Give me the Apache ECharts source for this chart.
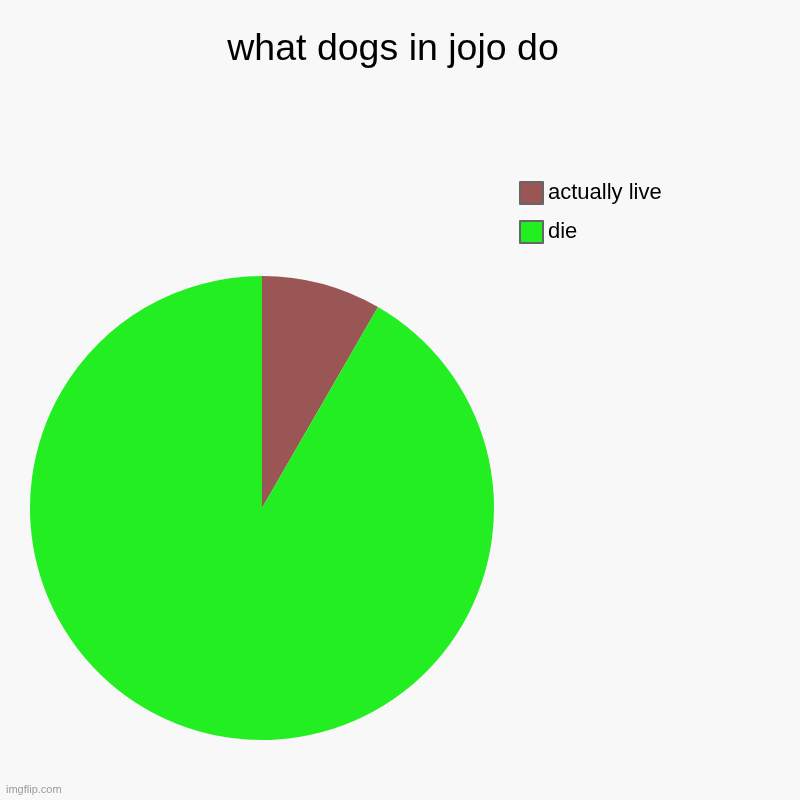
<!DOCTYPE html>
<html>
<head>
<meta charset="utf-8">
<script src="https://cdn.jsdelivr.net/npm/echarts@6/dist/echarts.min.js"></script>
<style>
  html, body { margin: 0; padding: 0; background: #f8f8f8; }
  #main { width: 800px; height: 800px; }
</style>
</head>
<body>
<div id="main"></div>
<script>
var categories = ['actually live', 'die'];
var values = [1, 11];
var colors = ['#9a5555', '#22ee22'];

var myChart = echarts.init(document.getElementById('main'));
var option = {
    backgroundColor: '#f8f8f8',
    animation: false,
    title: {
        text: 'what dogs in jojo do',
        left: 388,
        top: 26,
        textAlign: 'center',
        textStyle: {
            fontFamily: 'Liberation Sans, Arial, sans-serif',
            fontSize: 37.5,
            fontWeight: 'normal',
            color: '#000'
        }
    },
    legend: {
        orient: 'vertical',
        left: 514,
        top: 176,
        itemWidth: 23,
        itemHeight: 22,
        itemGap: 15,
        icon: 'rect',
        itemStyle: { borderColor: '#666', borderWidth: 2 },
        textStyle: {
            fontFamily: 'Liberation Sans, Arial, sans-serif',
            fontSize: 22,
            color: '#000'
        },
        data: categories
    },
    graphic: [{
        type: 'text',
        left: 6,
        top: 784,
        style: {
            text: 'imgflip.com',
            font: '11px Liberation Sans, Arial, sans-serif',
            fill: '#9a9a9a'
        }
    }],
    series: [{
        type: 'pie',
        center: [262, 508],
        radius: 232,
        startAngle: 90,
        clockwise: true,
        label: { show: false },
        labelLine: { show: false },
        emphasis: { disabled: true },
        itemStyle: { borderWidth: 0 },
        data: categories.map(function (c, i) {
            return { name: c, value: values[i], itemStyle: { color: colors[i] } };
        })
    }]
};
myChart.setOption(option);
</script>
</body>
</html>
